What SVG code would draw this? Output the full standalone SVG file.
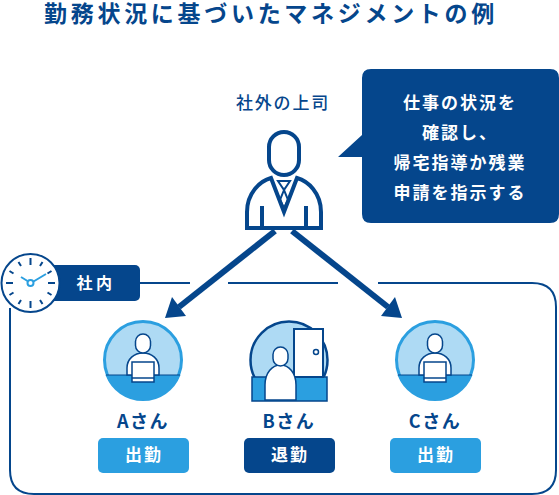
<svg xmlns="http://www.w3.org/2000/svg" width="559" height="495" viewBox="0 0 559 495">
<defs>
<style>
text{font-family:"Noto Sans CJK JP","Noto Sans",sans-serif;font-weight:500;text-anchor:middle}
.n{fill:#05468c}
.l{fill:none;stroke:#05468c;stroke-width:2}
.lw{fill:#fff;stroke:#05468c;stroke-width:1.5}
.name{font-size:18px;letter-spacing:1.5px;fill:#05468c;font-weight:700}
.bt{font-size:17px;letter-spacing:2px;fill:#fff;font-weight:700}
.bub{font-size:17px;letter-spacing:2px;fill:#fff;font-weight:700}
</style>
<clipPath id="above"><rect x="240" y="310" width="100" height="67"/></clipPath>
<g id="worker">
<circle cx="0" cy="0" r="38.5" fill="#aedaf4" stroke="#2b9fe0" stroke-width="3"/>
<path d="M-37.500 15H37.500A40 40 0 0 1-37.500 15Z" fill="#2b9fe0"/>
<path d="M-37 15H37" stroke="#05468c" stroke-width="1"/>
<path d="M-16 15V8C-16-1-9-7 0-7S16-1 16 8V15Z" class="lw"/>
<rect x="-7.500" y="-26" width="15" height="19" rx="7.500" class="lw"/>
<rect x="-11" y="2" width="22" height="20" fill="#fff" stroke="#05468c" stroke-width="1.500"/>
<path d="M-11 18H11" stroke="#05468c" stroke-width="1.500"/>
</g>
</defs>
<text x="271" y="22" style="font-size:23px;letter-spacing:3.7px;font-weight:700;fill:#05468c">勤務状況に基づいたマネジメントの例</text>
<g id="connectors">
<path d="M275 231L179 307" stroke="#05468c" stroke-width="6" fill="none"/>
<path d="M165 318L172 297L186 316Z" class="n"/>
<path d="M292 231L388 307" stroke="#05468c" stroke-width="6" fill="none"/>
<path d="M402 318L381 316L395 297Z" class="n"/>
</g>
<g id="boundary">
<path d="M140 283H190M228 283H338M378 283H532Q556 283 556 307V470Q556 494 532 494H34Q10 494 10 470V308" class="l"/>
</g>
<g id="boss">
<text x="283" y="109" style="font-size:17px;letter-spacing:1.800px;fill:#05468c">社外の上司</text>
<rect x="269" y="132" width="30" height="43" rx="15" class="l" style="stroke-width:4"/>
<path d="M247 228V212C247 193 260 181 271 178L284 212L297 178C308 181 321 193 321 212V228Z" class="l" style="stroke-width:4"/>
<path d="M262 206V228M306 206V228" class="l" style="stroke-width:4"/>
<path d="M278 181H290L284 190ZM284 190L280 200L284 208L288 200Z" class="l"/>
</g>
<g id="bubble">
<path d="M371 69H550Q559 69 559 78V214Q559 223 550 223H371Q362 223 362 214V157L338 157L362 135V78Q362 69 371 69Z" class="n"/>
<text x="460" y="108.500" class="bub">仕事の状況を</text>
<text x="460" y="138.500" class="bub">確認し、</text>
<text x="460" y="168.500" class="bub">帰宅指導か残業</text>
<text x="460" y="198.500" class="bub">申請を指示する</text>
</g>
<g id="inside">
<rect x="40" y="265" width="100" height="36" rx="5" class="n"/>
<text x="96" y="289" style="font-size:16px;letter-spacing:3.5px;fill:#fff;font-weight:700">社内</text>
</g>
<g id="clock">
<circle cx="30.500" cy="283" r="29" fill="#fff" stroke="#05468c" stroke-width="2"/>
<path d="M30.500 258V265M30.500 301V308M6 283H13M48 283H55M18.500 262L21 266M40 300L42.500 304M9.500 271L13.500 273.500M47.500 292.500L51.500 295M9.500 295L13.500 292.500M47.500 273.500L51.500 271M18.500 304L21 300M40 266L42.500 262" stroke="#05468c" stroke-width="2" fill="none"/>
<path d="M27.500 281L21 277M33.500 281.500L46 274" stroke="#2b9fe0" stroke-width="2" fill="none"/>
<circle cx="30.500" cy="283" r="3" fill="#fff" stroke="#2b9fe0" stroke-width="2"/>
</g>
<g id="person-a">
<use href="#worker" x="143" y="360"/>
<text x="143" y="428" class="name">Aさん</text>
<rect x="98" y="438" width="91" height="35" rx="5" fill="#2b9fe0"/>
<text x="144" y="461" class="bt">出勤</text>
</g>
<g id="person-b">
<circle cx="289" cy="360" r="38.500" fill="#aedaf4" stroke="#05468c" stroke-width="2.500" clip-path="url(#above)"/>
<rect x="252" y="377" width="75" height="24" fill="#2b9fe0" stroke="#05468c" stroke-width="1.500"/>
<rect x="294" y="329" width="29" height="48" fill="#fff" stroke="#05468c" stroke-width="2"/>
<circle cx="316" cy="352" r="2.500" fill="#fff" stroke="#05468c" stroke-width="1.500"/>
<path d="M265 400V385C265 373 272 365 280.500 365S296 373 296 385V400Z" class="lw"/>
<rect x="273" y="347" width="15" height="19" rx="7.500" class="lw"/>
<text x="289" y="428" class="name">Bさん</text>
<rect x="244" y="438" width="91" height="35" rx="5" class="n"/>
<text x="290" y="461" class="bt">退勤</text>
</g>
<g id="person-c">
<use href="#worker" x="435" y="360"/>
<text x="435" y="428" class="name">Cさん</text>
<rect x="390" y="438" width="91" height="35" rx="5" fill="#2b9fe0"/>
<text x="436" y="461" class="bt">出勤</text>
</g>
</svg>
